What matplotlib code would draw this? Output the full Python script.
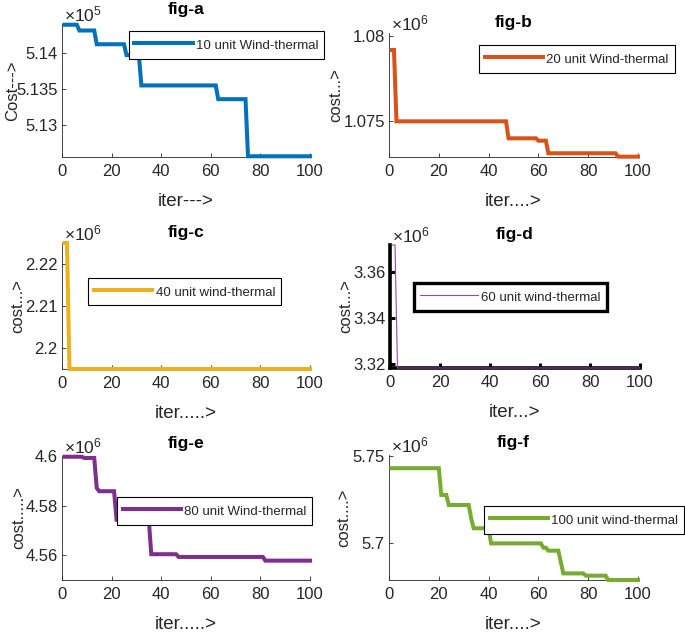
import matplotlib

matplotlib.use("Agg")
import matplotlib.pyplot as plt  # noqa: E402
from matplotlib.ticker import FuncFormatter  # noqa: E402


plt.rcParams["font.family"] = ["Liberation Sans", "DejaVu Sans"]
plt.rcParams["mathtext.fontset"] = "custom"
plt.rcParams["mathtext.rm"] = "Liberation Sans"
plt.rcParams["mathtext.it"] = "Liberation Sans"

# convergence curves, cost in units of 10^n (n per panel), vertices where the value changes
iter_a = [1, 6, 7, 13, 14, 25, 26, 31, 32, 62, 63, 74, 75, 100]
cost_a = [5.1439, 5.1439, 5.1431, 5.1431, 5.1412, 5.1412, 5.1397, 5.1397,
          5.1355, 5.1355, 5.1336, 5.1336, 5.1257, 5.1257]

iter_b = [1, 2, 3, 47, 48, 59, 60, 63, 64, 91, 92, 100]
cost_b = [1.0792, 1.0792, 1.0750, 1.0750, 1.0740, 1.0740, 1.07386, 1.07386,
          1.07312, 1.07312, 1.07292, 1.07292]

iter_c = [1, 2, 3, 100]
cost_c = [2.2250, 2.2250, 2.1951, 2.1951]

iter_d = [1, 2, 3, 100]
cost_d = [3.3716, 3.3716, 3.3184, 3.3184]

iter_e = [1, 8, 9, 13, 14, 15, 21, 22, 35, 36, 46, 47, 81, 82, 100]
cost_e = [4.5997, 4.5997, 4.5992, 4.5992, 4.5871, 4.5858, 4.5858, 4.5743,
          4.5743, 4.5604, 4.5604, 4.5593, 4.5593, 4.5578, 4.5578]

iter_f = [1, 20, 21, 23, 24, 32, 33, 34, 40, 41, 61, 62, 63, 64, 68, 70, 78, 79, 87, 88, 100]
cost_f = [5.7429, 5.7429, 5.7275, 5.7275, 5.7217, 5.7217, 5.7140, 5.7083, 5.7083,
          5.6996, 5.6996, 5.6971, 5.6971, 5.6954, 5.6954, 5.6823, 5.6823, 5.6810,
          5.6810, 5.6785, 5.6785]

titles = ["fig-a", "fig-b", "fig-c", "fig-d", "fig-e", "fig-f"]
legend_labels = ["10 unit Wind-thermal", "20 unit Wind-thermal", "40 unit wind-thermal",
                 "60 unit wind-thermal", "80 unit Wind-thermal", "100 unit wind-thermal"]
ylabels = ["Cost--->", "cost...>", "cost...>", "cost...>", "cost.....>", "cost....>"]
xlabels = ["iter--->", "iter....>", "iter.....>", "iter...>", "iter.....>", "iter....>"]
exponents = [5, 6, 6, 6, 6, 6]
y_ticks = [[5.13, 5.135, 5.14], [1.075, 1.08], [2.2, 2.21, 2.22],
           [3.32, 3.34, 3.36], [4.56, 4.58, 4.6], [5.7, 5.75]]
y_limits = [(5.1256, 5.1440), (1.0729, 1.0802), (2.1951, 2.2250),
            (3.3184, 3.3716), (4.55, 4.60), (5.6785, 5.7505)]
x_ticks = [0, 20, 40, 60, 80, 100]

colors = ["#0072BD", "#D95319", "#EDB120", "#8A4FA3", "#7E2F8E", "#77AC30"]
line_widths = [2.9, 2.9, 2.9, 0.8, 2.9, 2.9]

W, H = 685, 634
# axes boxes in pixels: left, right, top, bottom
boxes = [(62, 310, 24, 157), (389, 638, 33, 157), (62, 310, 243, 369),
         (390, 640, 245, 368), (62, 310, 456, 580), (389, 638, 455, 580)]
legend_centers = [(0.663, 0.842), (0.755, 0.791), (0.495, 0.615),
                  (0.481, 0.580), (0.615, 0.556), (0.784, 0.482)]
ylabel_x = [-0.17, -0.183, -0.147, -0.146, -0.143, -0.151]
title_pads = [7, 4, 4, 4, 6, 6]

series = [(iter_a, cost_a), (iter_b, cost_b), (iter_c, cost_c),
          (iter_d, cost_d), (iter_e, cost_e), (iter_f, cost_f)]

text_color = "#262626"
fig = plt.figure(figsize=(W / 100, H / 100), dpi=100)

for i, (xs, ys) in enumerate(series):
    left, right, top, bottom = boxes[i]
    ax = fig.add_axes([left / W, 1 - bottom / H, (right - left) / W, (bottom - top) / H])
    heavy = i == 3
    ax.plot(xs, ys, color=colors[i], lw=line_widths[i], label=legend_labels[i],
            clip_on=False, zorder=3, solid_joinstyle="miter")
    ax.set_xlim(0, 100)
    ax.set_ylim(*y_limits[i])
    ax.set_xticks(x_ticks)
    ax.set_yticks(y_ticks[i])
    ax.yaxis.set_major_formatter(FuncFormatter(lambda v, _: f"{v:g}"))

    for side in ("top", "right"):
        ax.spines[side].set_visible(False)
    spine_color = "black" if heavy else text_color
    for side in ("left", "bottom"):
        ax.spines[side].set_color(spine_color)
        ax.spines[side].set_linewidth(2.6 if heavy else 0.6)
    ax.tick_params(direction="in", length=3.5 if heavy else 3, width=2.2 if heavy else 0.6,
                   color=spine_color, labelcolor=text_color, labelsize=12)
    ax.tick_params(axis="x", pad=5)
    ax.tick_params(axis="y", pad=3)

    ax.set_title(titles[i], fontsize=12.5, fontweight="bold", pad=title_pads[i], color="black")
    ax.set_xlabel(xlabels[i], fontsize=13.5, labelpad=10, color=text_color)
    ax.set_ylabel(ylabels[i], fontsize=12, color=text_color)
    ax.yaxis.set_label_coords(ylabel_x[i], 0.5)
    ax.text(0.008, 1.0, rf"$\times10^{{{exponents[i]}}}$", transform=ax.transAxes,
            ha="left", va="bottom", fontsize=12.5, color=text_color)

    leg = ax.legend(loc="center", bbox_to_anchor=legend_centers[i], fontsize=9.5,
                    handlelength=4.4, handletextpad=0.25, borderpad=0.45, handleheight=1.5,
                    fancybox=False, framealpha=1, edgecolor="black")
    leg.get_frame().set_linewidth(2.4 if heavy else 0.8)
    for t in leg.get_texts():
        t.set_color(text_color)

fig.savefig("out.png", dpi=100)
plt.close(fig)
